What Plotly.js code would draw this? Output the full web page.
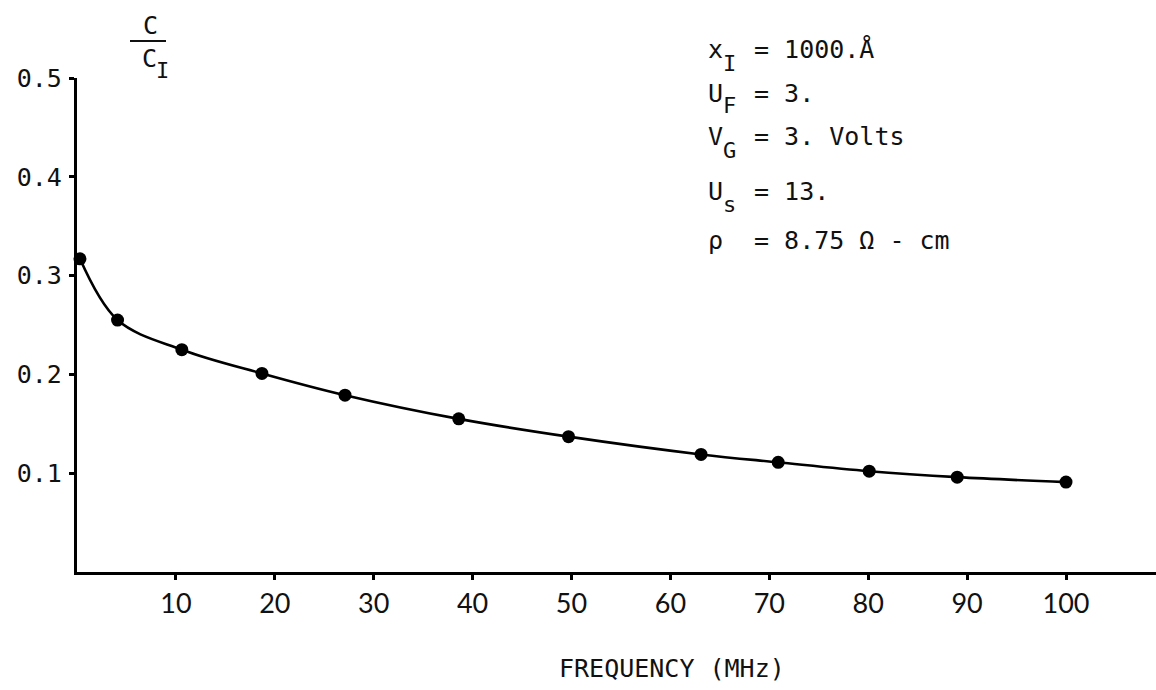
<!DOCTYPE html>
<html>
<head>
<meta charset="utf-8">
<script src="https://cdn.plot.ly/plotly-3.0.1.min.js"></script>
<style>
  html, body { margin: 0; padding: 0; background: #ffffff; }
  #chart { width: 1156px; height: 690px; }
</style>
</head>
<body>
<div id="chart"></div>
<script>
// Data
const frequencyMHz = [0.3, 4.1, 10.6, 18.7, 27.1, 38.6, 49.7, 63.1, 70.9, 80.1, 89.0, 100.0];
const capacitanceRatio = [0.317, 0.255, 0.225, 0.201, 0.179, 0.155, 0.137, 0.119, 0.111, 0.102, 0.096, 0.091];
const xTickValues = [10, 20, 30, 40, 50, 60, 70, 80, 90, 100];
const xTickLabels = ["10", "20", "30", "40", "50", "60", "70", "80", "90", "100"];
const yTickValues = [0.1, 0.2, 0.3, 0.4, 0.5];
const yTickLabels = ["0.1", "0.2", "0.3", "0.4", "0.5"];
const parameterSymbols = ["x", "U", "V", "U", "ρ"];
const parameterSubscripts = ["I", "F", "G", "s", ""];
const parameterValues = ["= 1000.Å", "= 3.", "= 3. Volts", "= 13.", "= 8.75 Ω - cm"];
const xAxisTitle = "FREQUENCY (MHz)";

// layout geometry (pixels)
const W = 1156, H = 690;
const mL = 77, mR = 0, mT = 78, mB = 118;
const pw = W - mL - mR, ph = H - mT - mB;
const px = x => (x - mL) / pw;
const py = y => (H - mB - y) / ph;

const mono = "DejaVu Sans Mono, Liberation Mono, monospace";
const tickSans = "Lato, Open Sans, sans-serif";
const txtFont = { family: mono, size: 25, color: "#111" };
const subFont = { family: mono, size: 22, color: "#111" };

const trace = {
  x: frequencyMHz,
  y: capacitanceRatio,
  type: "scatter",
  mode: "lines+markers",
  line: { color: "#000", width: 2.6, shape: "spline", smoothing: 1 },
  marker: { color: "#000", size: 13 },
  cliponaxis: false,
  hoverinfo: "x+y"
};

const paramY = [50, 93, 137, 191, 241];
const annotations = [];
parameterSymbols.forEach((s, i) => {
  annotations.push({
    text: s, xref: "paper", yref: "paper",
    x: px(706), y: py(paramY[i]), xanchor: "left", yanchor: "middle",
    showarrow: false, font: txtFont
  });
  if (parameterSubscripts[i]) {
    annotations.push({
      text: parameterSubscripts[i], xref: "paper", yref: "paper",
      x: px(721), y: py(paramY[i] + 13), xanchor: "left", yanchor: "middle",
      showarrow: false, font: subFont
    });
  }
  annotations.push({
    text: parameterValues[i], xref: "paper", yref: "paper",
    x: px(752), y: py(paramY[i]), xanchor: "left", yanchor: "middle",
    showarrow: false, font: txtFont
  });
});

annotations.push({
  text: "C", xref: "paper", yref: "paper", x: px(150), y: py(25),
  xanchor: "center", yanchor: "middle", showarrow: false, font: txtFont
});
annotations.push({
  text: "C", xref: "paper", yref: "paper", x: px(140), y: py(58),
  xanchor: "left", yanchor: "middle", showarrow: false, font: txtFont
});
annotations.push({
  text: "I", xref: "paper", yref: "paper", x: px(154), y: py(71),
  xanchor: "left", yanchor: "middle", showarrow: false, font: subFont
});
annotations.push({
  text: xAxisTitle, xref: "paper", yref: "paper", x: px(672), y: py(668),
  xanchor: "center", yanchor: "middle", showarrow: false, font: txtFont
});

const layout = {
  width: W, height: H,
  margin: { l: mL, r: mR, t: mT, b: mB, pad: 0 },
  paper_bgcolor: "#ffffff",
  plot_bgcolor: "#ffffff",
  showlegend: false,
  xaxis: {
    range: [0, pw / 9.89],
    tickmode: "array", tickvals: xTickValues, ticktext: xTickLabels,
    ticks: "outside", ticklen: 5, tickwidth: 2.5, tickcolor: "#000",
    showline: true, linecolor: "#000", linewidth: 3.2,
    showgrid: false, zeroline: false,
    tickfont: { family: tickSans, size: 27, color: "#111" },
    ticklabelstandoff: 0
  },
  yaxis: {
    range: [0, 0.5],
    tickmode: "array", tickvals: yTickValues, ticktext: yTickLabels,
    ticks: "outside", ticklen: 5, tickwidth: 2.5, tickcolor: "#000",
    showline: true, linecolor: "#000", linewidth: 3.2,
    showgrid: false, zeroline: false,
    tickfont: { family: mono, size: 25, color: "#111" },
    ticklabelstandoff: 2
  },
  shapes: [{
    type: "line", xref: "paper", yref: "paper",
    x0: px(130), x1: px(166), y0: py(41), y1: py(41),
    line: { color: "#111", width: 2 }
  }],
  annotations: annotations
};

Plotly.newPlot("chart", [trace], layout, { displayModeBar: false, responsive: false });
</script>
</body>
</html>
